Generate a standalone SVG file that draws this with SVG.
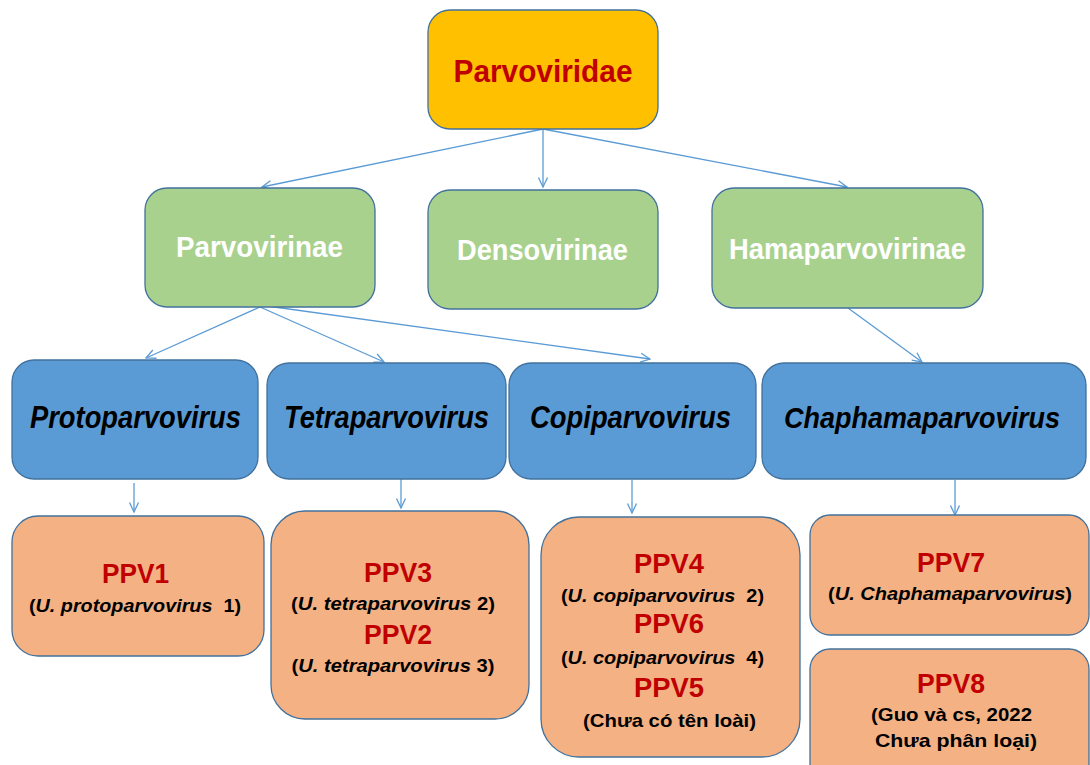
<svg xmlns="http://www.w3.org/2000/svg" width="1090" height="765" viewBox="0 0 1090 765">
<style>
.box{stroke:#41719C;stroke-width:1.3}
.fam{fill:#FFC000}
.sub{fill:#A9D18E}
.gen{fill:#5B9BD5}
.sp{fill:#F4B183}
.t{font-family:"Liberation Sans",Arial,sans-serif;font-weight:bold;text-anchor:middle}
.red{fill:#C00000}
.wh{fill:#FFFFFF}
.bk{fill:#000000}
.it{font-style:italic}
.conn{stroke:#5B9BD5;stroke-width:1.3;fill:none;marker-end:url(#ah)}
</style>
<defs>
<marker id="ah" markerUnits="userSpaceOnUse" markerWidth="12" markerHeight="12" viewBox="0 0 12 12" refX="10.5" refY="6" orient="auto">
<path d="M1,1.5 L10.5,6 L1,10.5" fill="none" stroke="#5B9BD5" stroke-width="1.3"/>
</marker>
</defs>
<rect width="1090" height="765" fill="#FFFFFF"/>

<g id="connectors">
<line class="conn" x1="543" y1="129" x2="262" y2="187"/>
<line class="conn" x1="543" y1="129" x2="543" y2="187"/>
<line class="conn" x1="543" y1="129" x2="847" y2="187"/>
<line class="conn" x1="260" y1="307" x2="146" y2="358"/>
<line class="conn" x1="260" y1="307" x2="384" y2="362"/>
<line class="conn" x1="260" y1="305" x2="650" y2="359"/>
<line class="conn" x1="848" y1="308" x2="922" y2="362"/>
<line class="conn" x1="134" y1="483" x2="134" y2="512"/>
<line class="conn" x1="401" y1="479" x2="401" y2="508"/>
<line class="conn" x1="632" y1="480" x2="632" y2="513"/>
<line class="conn" x1="955" y1="480" x2="955" y2="515"/>
</g>

<g id="parvoviridae">
<rect class="box fam" x="428" y="10" width="230" height="119" rx="22"/>
<text class="t red" x="543" y="82" font-size="32" textLength="179" lengthAdjust="spacingAndGlyphs">Parvoviridae</text>
</g>

<g id="parvovirinae">
<rect class="box sub" x="145" y="188" width="230" height="119" rx="22"/>
<text class="t wh" x="259.5" y="257" font-size="30" textLength="167" lengthAdjust="spacingAndGlyphs">Parvovirinae</text>
</g>
<g id="densovirinae">
<rect class="box sub" x="428" y="190" width="230" height="119" rx="22"/>
<text class="t wh" x="542.5" y="260" font-size="30" textLength="171" lengthAdjust="spacingAndGlyphs">Densovirinae</text>
</g>
<g id="hamaparvovirinae">
<rect class="box sub" x="712" y="188" width="271" height="120" rx="22"/>
<text class="t wh" x="847.5" y="259" font-size="30" textLength="237" lengthAdjust="spacingAndGlyphs">Hamaparvovirinae</text>
</g>

<g id="protoparvovirus">
<rect class="box gen" x="12" y="360" width="246" height="119" rx="22"/>
<text class="t bk it" x="135.5" y="428" font-size="32" textLength="211" lengthAdjust="spacingAndGlyphs">Protoparvovirus</text>
</g>
<g id="tetraparvovirus">
<rect class="box gen" x="267" y="363" width="239" height="116" rx="22"/>
<text class="t bk it" x="386.5" y="428" font-size="32" textLength="205" lengthAdjust="spacingAndGlyphs">Tetraparvovirus</text>
</g>
<g id="copiparvovirus">
<rect class="box gen" x="509" y="363" width="247" height="116" rx="22"/>
<text class="t bk it" x="630.5" y="428" font-size="32" textLength="201" lengthAdjust="spacingAndGlyphs">Copiparvovirus</text>
</g>
<g id="chaphamaparvovirus">
<rect class="box gen" x="762" y="363" width="324" height="116" rx="22"/>
<text class="t bk it" x="922" y="428" font-size="30" textLength="276" lengthAdjust="spacingAndGlyphs">Chaphamaparvovirus</text>
</g>

<g id="ppv1">
<rect class="box sp" x="12" y="516" width="252" height="140" rx="26"/>
<text class="t red" x="135.5" y="583" font-size="27" textLength="67" lengthAdjust="spacingAndGlyphs">PPV1</text>
<text class="t bk" x="135" y="612" font-size="19" textLength="212" lengthAdjust="spacingAndGlyphs">(<tspan class="it">U. protoparvovirus</tspan>&#160; 1)</text>
</g>

<g id="ppv3-ppv2">
<rect class="box sp" x="271" y="511" width="258" height="208" rx="34"/>
<text class="t red" x="398" y="582" font-size="27" textLength="68" lengthAdjust="spacingAndGlyphs">PPV3</text>
<text class="t bk" x="393" y="610" font-size="19" textLength="204" lengthAdjust="spacingAndGlyphs">(<tspan class="it">U. tetraparvovirus</tspan> 2)</text>
<text class="t red" x="398" y="644" font-size="27" textLength="68" lengthAdjust="spacingAndGlyphs">PPV2</text>
<text class="t bk" x="393" y="672" font-size="19" textLength="203" lengthAdjust="spacingAndGlyphs">(<tspan class="it">U. tetraparvovirus</tspan> 3)</text>
</g>

<g id="ppv4-ppv6-ppv5">
<rect class="box sp" x="541" y="517" width="259" height="240" rx="38"/>
<text class="t red" x="669" y="573" font-size="27" textLength="70" lengthAdjust="spacingAndGlyphs">PPV4</text>
<text class="t bk" x="662.5" y="602" font-size="19" textLength="203" lengthAdjust="spacingAndGlyphs">(<tspan class="it">U. copiparvovirus</tspan>&#160; 2)</text>
<text class="t red" x="669" y="633" font-size="27" textLength="70" lengthAdjust="spacingAndGlyphs">PPV6</text>
<text class="t bk" x="662.5" y="664" font-size="19" textLength="203" lengthAdjust="spacingAndGlyphs">(<tspan class="it">U. copiparvovirus</tspan>&#160; 4)</text>
<text class="t red" x="669" y="697" font-size="27" textLength="70" lengthAdjust="spacingAndGlyphs">PPV5</text>
<text class="t bk" x="669.5" y="727" font-size="19" textLength="173" lengthAdjust="spacingAndGlyphs">(Chưa có tên loài)</text>
</g>

<g id="ppv7">
<rect class="box sp" x="810" y="515" width="279" height="120" rx="20"/>
<text class="t red" x="951" y="572" font-size="27" textLength="68" lengthAdjust="spacingAndGlyphs">PPV7</text>
<text class="t bk" x="950" y="600" font-size="19" textLength="244" lengthAdjust="spacingAndGlyphs">(<tspan class="it">U. Chaphamaparvovirus</tspan>)</text>
</g>

<g id="ppv8">
<rect class="box sp" x="810" y="649" width="279" height="140" rx="20"/>
<text class="t red" x="951" y="693" font-size="27" textLength="68" lengthAdjust="spacingAndGlyphs">PPV8</text>
<text class="t bk" x="951.5" y="721" font-size="19" textLength="161" lengthAdjust="spacingAndGlyphs">(Guo và cs, 2022</text>
<text class="t bk" x="956" y="747" font-size="19" textLength="162" lengthAdjust="spacingAndGlyphs">Chưa phân loại)</text>
</g>
</svg>
